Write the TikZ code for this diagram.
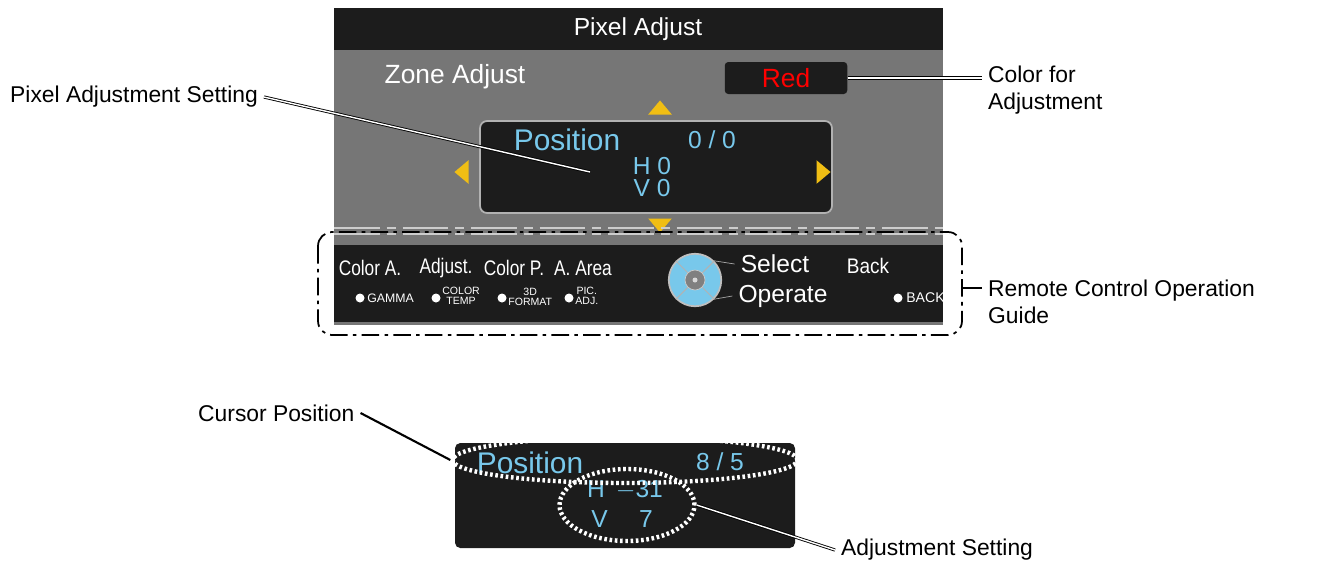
\documentclass[tikz,border=0pt]{standalone}
\usepackage{fontspec}
\setmainfont{Liberation Sans}
\usetikzlibrary{shapes.geometric}

\definecolor{panelgray}{RGB}{118,118,118}
\definecolor{screenblack}{RGB}{28,28,28}
\definecolor{posblue}{RGB}{120,200,235}
\definecolor{arrowgold}{RGB}{240,190,20}

\begin{document}
\begin{tikzpicture}[
    x=0.02cm, y=-0.02cm,
    callout/.style={font=\fontsize{13}{15}\selectfont, align=left, anchor=west},
    onscreen/.style={font=\fontsize{14}{16}\selectfont, text=white},
    posval/.style={font=\fontsize{14}{15}\selectfont, text=posblue},
    guide/.style={font=\fontsize{12}{13}\selectfont, text=white, xscale=0.82},
    tiny/.style={font=\fontsize{6}{6}\selectfont, text=white, align=center, inner sep=0pt, anchor=west},
    tri/.style={isosceles triangle, fill=arrowgold, inner sep=0pt, minimum width=11pt, minimum height=8pt, isosceles triangle apex angle=80},
    sep/.style={draw=white!80!black, line width=1.2pt, dash pattern=on 26pt off 4pt on 5pt off 4pt},
    leader/.style={draw=black, line width=1.2pt},
    dblleader/.style={double=white, double distance=0.8pt, draw=black, line width=0.5pt}
]
\useasboundingbox (0,0) rectangle (1317,576);

% Screen
\fill[panelgray] (334,8) rectangle (943,325);
\fill[screenblack] (334,8) rectangle (943,50);
\node[onscreen] (title) at (638,29) {Pixel Adjust};
\node[onscreen, font=\fontsize{15}{16}\selectfont] (zone) at (455,77) {Zone Adjust};
\node[fill=screenblack, rounded corners=2pt, minimum width=2.45cm, minimum height=0.64cm, text=red, font=\fontsize{15}{16}\selectfont] (red) at (786,78) {Red};

\node[draw=gray!60, line width=1pt, fill=screenblack, rounded corners=4pt, minimum width=7.04cm, minimum height=1.84cm] (posbox) at (656,167) {};
\node[posval, font=\fontsize{17}{18}\selectfont] (pos) at (567,140) {Position};
\node[posval] (posnum) at (712,140) {0 / 0};
\node[posval] (hval) at (652,166) {H 0};
\node[posval] (vval) at (652,188) {V 0};
\node[tri, shape border rotate=90] (up) at (660,109) {};
\node[tri, shape border rotate=-90] (down) at (660,224) {};
\node[tri, shape border rotate=180] (left) at (463,172) {};
\node[tri] (right) at (822,172) {};

\draw[sep] (334,228) -- (943,228);
\draw[sep] (334,234) -- (943,234);
\fill[screenblack] (334,245) rectangle (943,322);

% Remote guide
\foreach \lab/\xx in {Color A./370, Adjust./446, Color P./514, A. Area/583}
    \node[guide] at (\xx,268) {\lab};
\node[guide, xscale=1.1] (back) at (868,266) {Back};
\foreach \xx in {360, 436, 502, 569, 898}
    \fill[white] (\xx,298) circle (4.5);
\node[tiny, font=\fontsize{7}{7}\selectfont] at (367,298) {GAMMA};
\node[tiny] at (442,296) {COLOR\\TEMP};
\node[tiny] at (508,297) {3D\\FORMAT};
\node[tiny] at (575,296) {PIC.\\ADJ.};
\node[tiny, font=\fontsize{8}{8}\selectfont] at (906,298) {BACK};
\node[circle, fill=posblue, draw=gray!50, line width=1pt, minimum size=1.05cm] (pad) at (695,280) {};
\draw[gray!60, line width=0.6pt] (pad.north west) -- (pad.south east) (pad.north east) -- (pad.south west);
\node[circle, fill=gray, draw=gray!40, minimum size=0.4cm] (padc) at (695,280) {};
\fill[gray!30] (695,280) circle (2.5);
\node[onscreen, font=\fontsize{14}{15}\selectfont] (sel) at (775,264) {Select};
\node[onscreen, font=\fontsize{14}{15}\selectfont] (op) at (783,296) {Operate};
\draw[gray!70] (pad.north east) -- (sel.west);
\draw[gray!70] (pad.south east) -- (op.west);

\draw[line width=1pt, dash pattern=on 10pt off 3pt on 2pt off 3pt, rounded corners=8pt] (318,232) rectangle (962,335);

% Callouts
\node[callout] (pixset) at (4,97) {Pixel Adjustment Setting};
\coordinate (pixend) at (590,172);
\draw[dblleader] (pixset.east) -- (pixend);
\node[callout] (colfor) at (982,90) {Color for\\Adjustment};
\draw[dblleader] (red.east) -- (colfor.west |- red.east);
\node[callout] (remote) at (982,302) {Remote Control Operation\\Guide};
\draw[leader, line width=0.8pt] (962,288) -- (remote.west |- 0,288);

% Cursor detail
\fill[screenblack, rounded corners=3pt] (455,443) rectangle (795,548);
\node[posval, font=\fontsize{17}{18}\selectfont] (pos2) at (530,463) {Position};
\node[posval] (posnum2) at (720,462) {8 / 5};
\node[posval] (h2) at (625,490) {H \,$-$31};
\node[posval] (v2) at (622,519) {V \quad 7};
\node[ellipse, draw=white, line width=2.5pt, dash pattern=on 1.5pt off 1.5pt, minimum width=6.9cm, minimum height=0.92cm] (curell) at (625,460) {};
\node[ellipse, draw=white, line width=2.5pt, dash pattern=on 1.5pt off 1.5pt, minimum width=2.7cm, minimum height=1.44cm] (adjell) at (627,505) {};
\node[callout] (cursor) at (192,413) {Cursor Position};
\draw[leader] (cursor.east) -- (curell.west);
\node[callout] (adjset) at (835,550) {Adjustment Setting};
\draw[dblleader] (adjell.east) -- (adjset.west);

\end{tikzpicture}
\end{document}
